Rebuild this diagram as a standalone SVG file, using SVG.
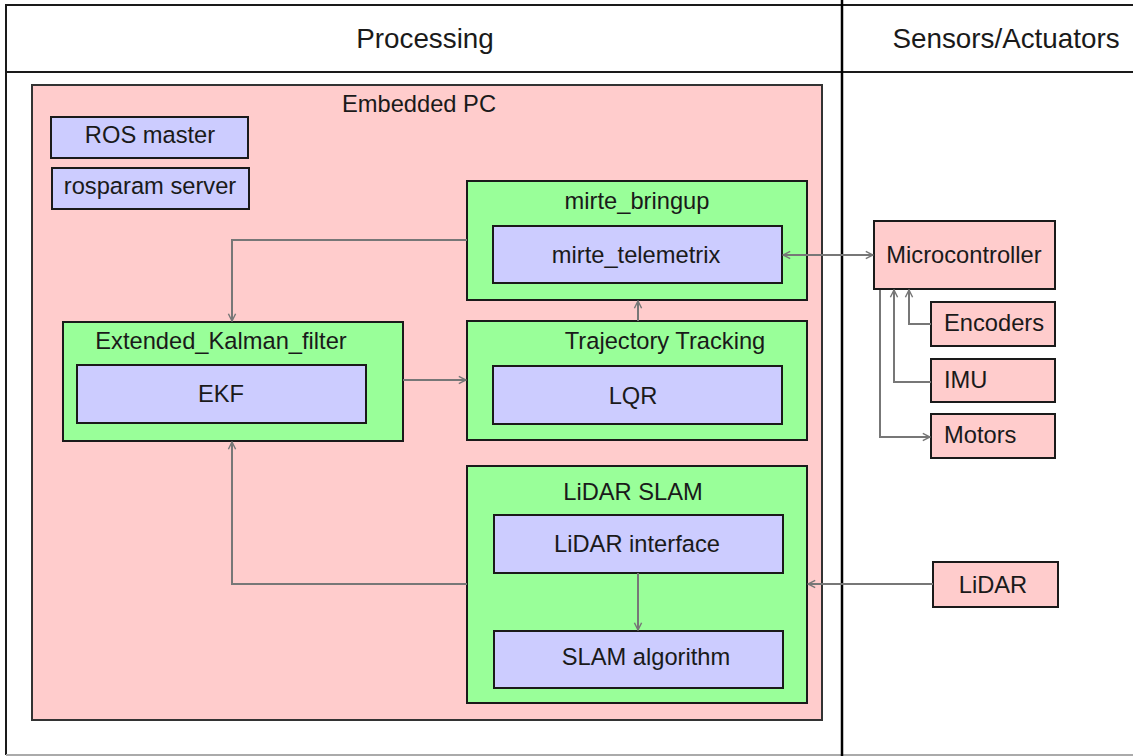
<svg xmlns="http://www.w3.org/2000/svg" width="1133" height="756" viewBox="0 0 1133 756">
  <style>
    text { font-family: "Liberation Sans", Arial, sans-serif; fill: #1a1a1a; }
    .hdr { font-size: 27.8px; text-anchor: middle; }
    .lbl { font-size: 23.7px; text-anchor: middle; }
    .lft { font-size: 23.7px; text-anchor: start; }
    .pc { fill: #ffcccc; stroke: #333; stroke-width: 2; }
    .grp { fill: #99ff99; stroke: #1a1a1a; stroke-width: 2; }
    .mod { fill: #ccccff; stroke: #1a1a1a; stroke-width: 2; }
    .dev { fill: #ffcccc; stroke: #1a1a1a; stroke-width: 2; }
    .frame { stroke: #1a1a1a; stroke-width: 2; fill: none; }
    .wire { fill: none; stroke: #777; stroke-width: 2; }
  </style>
  <defs>
    <marker id="arrow" viewBox="0 0 10 10" refX="9" refY="5" markerWidth="9" markerHeight="12" markerUnits="userSpaceOnUse" orient="auto-start-reverse">
      <path d="M1,1 L9,5 L1,9" fill="none" stroke="#777" stroke-width="1.6"/>
    </marker>
  </defs>

  <rect x="0" y="0" width="1133" height="756" fill="#ffffff"/>

  <!-- swimlane table -->
  <g id="lanes">
    <line class="frame" x1="6" y1="5" x2="1133" y2="5"/>
    <line class="frame" x1="6" y1="72" x2="1133" y2="72"/>
    <line class="frame" x1="6" y1="4" x2="6" y2="755" stroke="#333"/>
    <line x1="6" y1="755" x2="1133" y2="755" stroke="#aaa" stroke-width="2"/>
    <line x1="842" y1="0" x2="842" y2="756" stroke="#000" stroke-width="2.5"/>
    <text class="hdr" x="425" y="48">Processing</text>
    <text class="hdr" x="1006" y="48">Sensors/Actuators</text>
  </g>

  <!-- embedded computer -->
  <g id="embedded-pc">
    <rect class="pc" x="32" y="85" width="790" height="635"/>
    <text class="lbl" x="419" y="112">Embedded PC</text>
  </g>

  <g id="ros-master">
    <rect class="mod" x="51" y="117" width="197" height="41"/>
    <text class="lbl" x="150" y="143">ROS master</text>
  </g>

  <g id="rosparam-server">
    <rect class="mod" x="52" y="168" width="197" height="41"/>
    <text class="lbl" x="150" y="194">rosparam server</text>
  </g>

  <g id="mirte-bringup">
    <rect class="grp" x="467" y="181" width="340" height="119"/>
    <text class="lbl" x="637" y="209">mirte_bringup</text>
  </g>

  <g id="mirte-telemetrix">
    <rect class="mod" x="493" y="226" width="289" height="57"/>
    <text class="lbl" x="636" y="263">mirte_telemetrix</text>
  </g>

  <g id="trajectory-tracking">
    <rect class="grp" x="467" y="321" width="340" height="119"/>
    <text class="lbl" x="665" y="349">Trajectory Tracking</text>
  </g>

  <g id="lqr">
    <rect class="mod" x="493" y="366" width="289" height="58"/>
    <text class="lbl" x="633" y="404">LQR</text>
  </g>

  <g id="extended-kalman-filter">
    <rect class="grp" x="63" y="322" width="340" height="119"/>
    <text class="lbl" x="221" y="349">Extended_Kalman_filter</text>
  </g>

  <g id="ekf">
    <rect class="mod" x="77" y="365" width="289" height="58"/>
    <text class="lbl" x="221" y="402">EKF</text>
  </g>

  <g id="lidar-slam">
    <rect class="grp" x="467" y="466" width="340" height="237"/>
    <text class="lbl" x="633" y="500">LiDAR SLAM</text>
  </g>

  <g id="lidar-interface">
    <rect class="mod" x="494" y="515" width="289" height="58"/>
    <text class="lbl" x="637" y="552">LiDAR interface</text>
  </g>

  <g id="slam-algorithm">
    <rect class="mod" x="494" y="631" width="289" height="57"/>
    <text class="lbl" x="646" y="665">SLAM algorithm</text>
  </g>

  <!-- hardware side -->
  <g id="microcontroller">
    <rect class="dev" x="874" y="221" width="181" height="68"/>
    <text class="lbl" x="964" y="263">Microcontroller</text>
  </g>

  <g id="encoders">
    <rect class="dev" x="931" y="302" width="124" height="44"/>
    <text class="lft" x="944" y="331">Encoders</text>
  </g>

  <g id="imu">
    <rect class="dev" x="931" y="359" width="124" height="43"/>
    <text class="lft" x="944" y="388">IMU</text>
  </g>

  <g id="motors">
    <rect class="dev" x="931" y="414" width="124" height="44"/>
    <text class="lft" x="944" y="443">Motors</text>
  </g>

  <g id="lidar">
    <rect class="dev" x="933" y="562" width="125" height="45"/>
    <text class="lbl" x="993" y="593">LiDAR</text>
  </g>

  <!-- data flow -->
  <g id="connectors">
    <path class="wire" d="M467,240 H232 V321" marker-end="url(#arrow)"/>
    <path class="wire" d="M403,380 H466" marker-end="url(#arrow)"/>
    <path class="wire" d="M638,321 V301" marker-end="url(#arrow)"/>
    <path class="wire" d="M783,255 H873" marker-start="url(#arrow)" marker-end="url(#arrow)"/>
    <path class="wire" d="M467,584 H232 V442" marker-end="url(#arrow)"/>
    <path class="wire" d="M638,573 V630" marker-end="url(#arrow)"/>
    <path class="wire" d="M933,584 H808" marker-end="url(#arrow)"/>
    <path class="wire" d="M931,324 H909 V290" marker-end="url(#arrow)"/>
    <path class="wire" d="M931,382 H894 V290" marker-end="url(#arrow)"/>
    <path class="wire" d="M880,290 V437 H930" marker-end="url(#arrow)"/>
  </g>
</svg>
